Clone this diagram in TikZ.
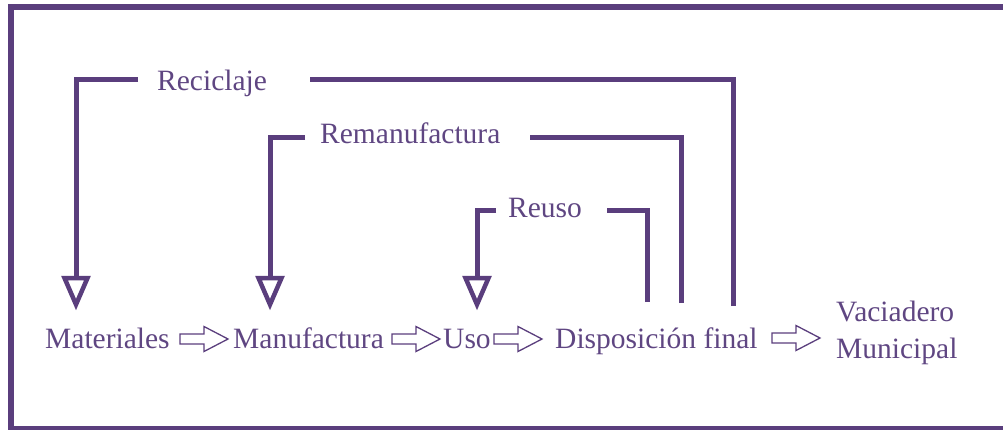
\documentclass[tikz,border=0pt]{standalone}
\usepackage{fontspec}
\setmainfont{Liberation Serif}
\definecolor{pur}{RGB}{90,62,125}
\definecolor{purtext}{RGB}{95,70,130}
\tikzset{
  lbl/.style={anchor=base west, inner sep=0pt, text=purtext, font=\fontsize{29.5}{37}\selectfont},
  loopline/.style={draw=pur, line width=5pt, line join=miter, line cap=butt},
  downhead/.pic={\draw[pur, line width=4.5pt, line join=miter] (-11.5,0) -- (11.5,0) -- (0,26.5) -- cycle;},
  blockarrow/.pic={\draw[pur, line width=1.3pt, line join=miter] (0,-5) -- (24,-5) -- (24,-12.5) -- (48,0) -- (24,12.5) -- (24,5) -- (0,5) -- cycle;}
}
\begin{document}
\begin{tikzpicture}[x=1pt,y=-1pt]
\useasboundingbox (0,0) rectangle (1003,429);
% frame
\draw[pur, line width=6pt] (11,7) rectangle (1015,429);

% labels
\node[lbl] (rec) at (157,90) {Reciclaje};
\node[lbl] (rem) at (320,143) {Remanufactura};
\node[lbl] (reu) at (508,217) {Reuso};
\node[lbl] (mat) at (45,348) {Materiales};
\node[lbl] (man) at (233,348) {Manufactura};
\node[lbl] (uso) at (443,348) {Uso};
\node[lbl] (dis) at (555,348) {Disposición final};
\node[lbl, align=left] (vac) at (836,358) {Vaciadero\\Municipal};

% block arrows between stages
\pic at (180,339) {blockarrow};
\pic at (392,339) {blockarrow};
\pic at (494,339) {blockarrow};
\pic at (772,338) {blockarrow};

% loop coordinates
\coordinate (recR) at (310,79);
\coordinate (recL) at (138,79);
\coordinate (disA) at (733,306);
\coordinate (matT) at (76,278);
\coordinate (remR) at (530,137);
\coordinate (remL) at (305,137);
\coordinate (disB) at (681,303);
\coordinate (manT) at (270,278);
\coordinate (reuR) at (607,210);
\coordinate (reuL) at (496,210);
\coordinate (disC) at (647,302);
\coordinate (usoT) at (477,278);

% Reciclaje loop
\draw[loopline] (disA) |- (recR);
\draw[loopline] (recL) -| (matT);
\pic at (matT) {downhead};
% Remanufactura loop
\draw[loopline] (disB) |- (remR);
\draw[loopline] (remL) -| (manT);
\pic at (manT) {downhead};
% Reuso loop
\draw[loopline] (disC) |- (reuR);
\draw[loopline] (reuL) -| (usoT);
\pic at (usoT) {downhead};
\end{tikzpicture}
\end{document}
